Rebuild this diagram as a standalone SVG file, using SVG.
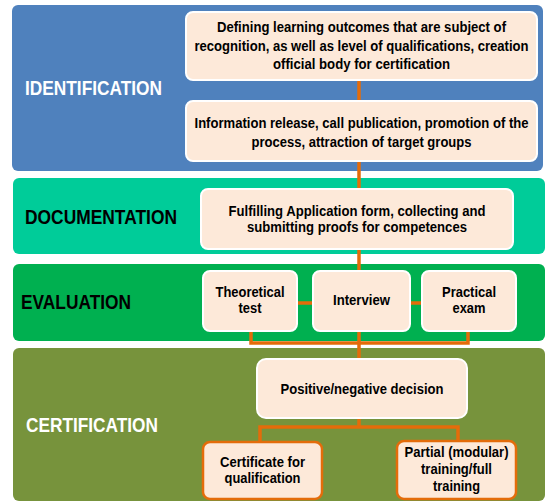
<svg xmlns="http://www.w3.org/2000/svg" width="546" height="502" viewBox="0 0 546 502">
<style>
.band{stroke:none}
.box{fill:#FDE9D9;stroke:#FFFFFF;stroke-width:2}
.obox{fill:#FDE9D9;stroke:#E46C0A;stroke-width:2.5}
.lbl{font-family:"Liberation Sans",Arial,sans-serif;font-weight:bold;font-size:19.5px}
.t{font-family:"Liberation Sans",Arial,sans-serif;font-weight:bold;font-size:15px;fill:#000000;text-anchor:middle}
.c{fill:none;stroke:#E46C0A;stroke-width:3.5}
</style>
<rect width="546" height="502" fill="#FFFFFF"/>
<g id="band-identification">
<rect class="band" x="12" y="5" width="531" height="166" rx="6" fill="#4F81BD"/>
<text class="lbl" x="25" y="95" fill="#FFFFFF" textLength="137" lengthAdjust="spacingAndGlyphs">IDENTIFICATION</text>
</g>
<g id="band-documentation">
<rect class="band" x="13" y="178" width="532" height="76" rx="6" fill="#00CC99"/>
<text class="lbl" x="25" y="224" fill="#000000" textLength="152" lengthAdjust="spacingAndGlyphs">DOCUMENTATION</text>
</g>
<g id="band-evaluation">
<rect class="band" x="13" y="264" width="532" height="77" rx="6" fill="#00B050"/>
<text class="lbl" x="21" y="309" fill="#000000" textLength="110" lengthAdjust="spacingAndGlyphs">EVALUATION</text>
</g>
<g id="band-certification">
<rect class="band" x="13" y="348" width="532" height="153" rx="6" fill="#77933C"/>
<text class="lbl" x="26" y="432" fill="#FFFFFF" textLength="132" lengthAdjust="spacingAndGlyphs">CERTIFICATION</text>
</g>
<g id="connectors">
<path class="c" d="M359 80V101"/>
<path class="c" d="M359 161V189"/>
<path class="c" d="M359 249V271"/>
<path class="c" d="M297 303H313"/>
<path class="c" d="M410 303H422"/>
<path class="c" d="M251 331V343H468V331"/>
<path class="c" d="M359 331V359"/>
<path class="c" d="M359 418V427"/>
<path class="c" d="M260 442V427H458V441"/>
</g>
<g id="node-define">
<rect class="box" x="186" y="12" width="351" height="68" rx="7"/>
<text class="t" x="361.5" y="32" textLength="289" lengthAdjust="spacingAndGlyphs">Defining learning outcomes that are subject of</text>
<text class="t" x="361.5" y="51" textLength="334" lengthAdjust="spacingAndGlyphs">recognition, as well as level of qualifications, creation</text>
<text class="t" x="361.5" y="69" textLength="177" lengthAdjust="spacingAndGlyphs">official body for certification</text>
</g>
<g id="node-info">
<rect class="box" x="186" y="101" width="351" height="60" rx="7"/>
<text class="t" x="361.5" y="128" textLength="334" lengthAdjust="spacingAndGlyphs">Information release, call publication, promotion of the</text>
<text class="t" x="361.5" y="147" textLength="220" lengthAdjust="spacingAndGlyphs">process, attraction of target groups</text>
</g>
<g id="node-application">
<rect class="box" x="201" y="189" width="312" height="60" rx="7"/>
<text class="t" x="357" y="216" textLength="257" lengthAdjust="spacingAndGlyphs">Fulfilling Application form, collecting and</text>
<text class="t" x="357" y="232" textLength="220" lengthAdjust="spacingAndGlyphs">submitting proofs for competences</text>
</g>
<g id="node-theoretical">
<rect class="box" x="203" y="271" width="94" height="60" rx="7"/>
<text class="t" x="250" y="297" textLength="69" lengthAdjust="spacingAndGlyphs">Theoretical</text>
<text class="t" x="250" y="313" textLength="23" lengthAdjust="spacingAndGlyphs">test</text>
</g>
<g id="node-interview">
<rect class="box" x="313" y="271" width="97" height="60" rx="7"/>
<text class="t" x="361.5" y="305" textLength="57" lengthAdjust="spacingAndGlyphs">Interview</text>
</g>
<g id="node-practical">
<rect class="box" x="422" y="271" width="94" height="60" rx="7"/>
<text class="t" x="469" y="297" textLength="54" lengthAdjust="spacingAndGlyphs">Practical</text>
<text class="t" x="469" y="313" textLength="33" lengthAdjust="spacingAndGlyphs">exam</text>
</g>
<g id="node-decision">
<rect class="box" x="257" y="359" width="210" height="59" rx="9"/>
<text class="t" x="362" y="394" textLength="163" lengthAdjust="spacingAndGlyphs">Positive/negative decision</text>
</g>
<g id="node-certificate">
<rect class="obox" x="203" y="442" width="119" height="57" rx="7"/>
<text class="t" x="262.5" y="467" textLength="85" lengthAdjust="spacingAndGlyphs">Certificate for</text>
<text class="t" x="262.5" y="483" textLength="76" lengthAdjust="spacingAndGlyphs">qualification</text>
</g>
<g id="node-training">
<rect class="obox" x="397" y="441" width="119" height="58" rx="7"/>
<text class="t" x="456.5" y="457" textLength="104" lengthAdjust="spacingAndGlyphs">Partial (modular)</text>
<text class="t" x="456.5" y="474" textLength="71" lengthAdjust="spacingAndGlyphs">training/full</text>
<text class="t" x="456.5" y="491" textLength="47" lengthAdjust="spacingAndGlyphs">training</text>
</g>
</svg>
